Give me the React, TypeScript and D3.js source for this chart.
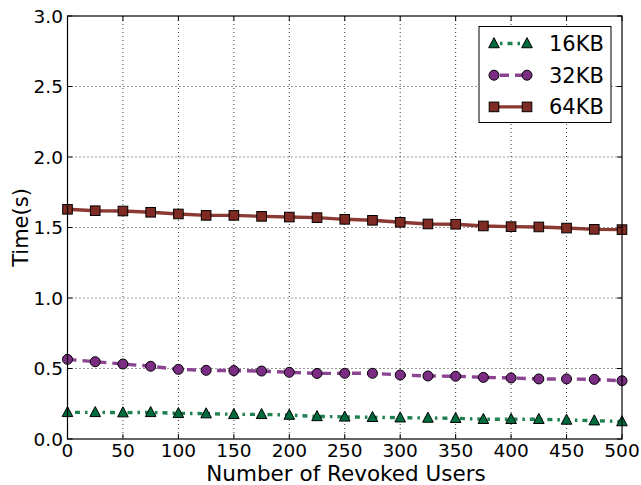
import React from "react";
import * as d3 from "d3";

const xValues = [0, 25, 50, 75, 100, 125, 150, 175, 200, 225, 250, 275, 300, 325, 350, 375, 400, 425, 450, 475, 500];
const s16 = [0.189, 0.189, 0.187, 0.189, 0.182, 0.18, 0.175, 0.175, 0.17, 0.16, 0.157, 0.154, 0.151, 0.149, 0.147, 0.14, 0.14, 0.14, 0.135, 0.13, 0.124];
const s32 = [0.565, 0.548, 0.532, 0.516, 0.494, 0.487, 0.485, 0.482, 0.473, 0.465, 0.466, 0.466, 0.454, 0.447, 0.445, 0.437, 0.433, 0.426, 0.426, 0.423, 0.413];
const s64 = [1.629, 1.619, 1.617, 1.608, 1.596, 1.586, 1.586, 1.579, 1.574, 1.57, 1.558, 1.551, 1.537, 1.525, 1.523, 1.511, 1.506, 1.504, 1.496, 1.487, 1.485];
const xTicks = [0, 50, 100, 150, 200, 250, 300, 350, 400, 450, 500];
const yTicks = [0, 0.5, 1.0, 1.5, 2.0, 2.5, 3.0];
const seriesNames = ["16KB", "32KB", "64KB"];

const W = 641, H = 485;
const L = 67.5, R = 622, T = 16, B = 439;
const font = "DejaVu Sans, sans-serif";

const colors = ["#006b3c", "#7b2d83", "#7f2a22"];
const lineColors = ["#1f8050", "#8a4492", "#8a3a32"];
const dashes = ["2.5,5,5,5", "9,6", null];

function Marker({ kind, x, y, color }: { kind: number; x: number; y: number; color: string }) {
  if (kind === 0) {
    const s = 5.3;
    return <path d={`M${x},${y - s * 1.1}L${x + s},${y + s * 0.8}L${x - s},${y + s * 0.8}Z`} fill={color} stroke="#000" strokeWidth={1} />;
  }
  if (kind === 1) return <circle cx={x} cy={y} r={5} fill={color} stroke="#000" strokeWidth={1} />;
  return <rect x={x - 4.8} y={y - 4.8} width={9.6} height={9.6} fill={color} stroke="#000" strokeWidth={1} />;
}

export default function App() {
  const x = d3.scaleLinear().domain([0, 500]).range([L, R]);
  const y = d3.scaleLinear().domain([0, 3]).range([B, T]);
  const data = [s16, s32, s64];
  const line = d3.line<number>().x((_, i) => x(xValues[i])).y((d) => y(d));

  return (
    <svg width={W} height={H} style={{ position: "absolute", left: 0, top: 0, background: "#fff" }}>
      <rect x={0} y={0} width={W} height={H} fill="#fff" />
      {xTicks.slice(1, -1).map((t) => (
        <line key={"gx" + t} x1={x(t)} x2={x(t)} y1={T} y2={B} stroke="#000" strokeWidth={0.8} strokeDasharray="1,3" />
      ))}
      {yTicks.slice(1, -1).map((t) => (
        <line key={"gy" + t} x1={L} x2={R} y1={y(t)} y2={y(t)} stroke="#000" strokeWidth={0.8} strokeDasharray="1,3" />
      ))}
      {data.map((s, k) => (
        <path key={"l" + k} d={line(s) || ""} fill="none" stroke={lineColors[k]} strokeWidth={3.4}
          strokeDasharray={dashes[k] || undefined} />
      ))}
      {data.map((s, k) => (
        <g key={"m" + k}>
          {s.map((v, i) => <Marker key={i} kind={k} x={x(xValues[i])} y={y(v)} color={colors[k]} />)}
        </g>
      ))}
      <rect x={L} y={T} width={R - L} height={B - T} fill="none" stroke="#000" strokeWidth={1.2} />
      {xTicks.map((t) => (
        <g key={"tx" + t}>
          <line x1={x(t)} x2={x(t)} y1={B} y2={B - 5} stroke="#000" />
          <line x1={x(t)} x2={x(t)} y1={T} y2={T + 5} stroke="#000" />
          <text x={x(t)} y={457} textAnchor="middle" fontFamily={font} fontSize={18.5} fill="#000">{t}</text>
        </g>
      ))}
      {yTicks.map((t) => (
        <g key={"ty" + t}>
          <line x1={L} x2={L + 5} y1={y(t)} y2={y(t)} stroke="#000" />
          <line x1={R} x2={R - 5} y1={y(t)} y2={y(t)} stroke="#000" />
          <text x={63} y={y(t) + 6.5} textAnchor="end" fontFamily={font} fontSize={18.5} fill="#000">{t.toFixed(1)}</text>
        </g>
      ))}
      <text x={346} y={480.5} textAnchor="middle" fontFamily={font} fontSize={21.5} fill="#000">Number of Revoked Users</text>
      <text transform={`translate(28,${(T + B) / 2}) rotate(-90)`} textAnchor="middle" fontFamily={font} fontSize={21} fill="#000">Time(s)</text>
      <rect x={479} y={26.5} width={132} height={96} fill="#fff" stroke="#000" strokeWidth={1} />
      {seriesNames.map((n, k) => {
        const ly = 43.5 + k * 31.7;
        return (
          <g key={"lg" + k}>
            <line x1={494} x2={527} y1={ly} y2={ly} stroke={lineColors[k]} strokeWidth={3.4}
              strokeDasharray={k === 0 ? "2.5,5,5,5" : k === 1 ? "9,6" : undefined}
              strokeDashoffset={k === 0 ? -6 : k === 1 ? -6 : 0} />
            <Marker kind={k} x={494} y={ly} color={colors[k]} />
            <Marker kind={k} x={527} y={ly} color={colors[k]} />
            <text x={549} y={ly + 7.5} fontFamily={font} fontSize={21} fill="#000">{n}</text>
          </g>
        );
      })}
    </svg>
  );
}
